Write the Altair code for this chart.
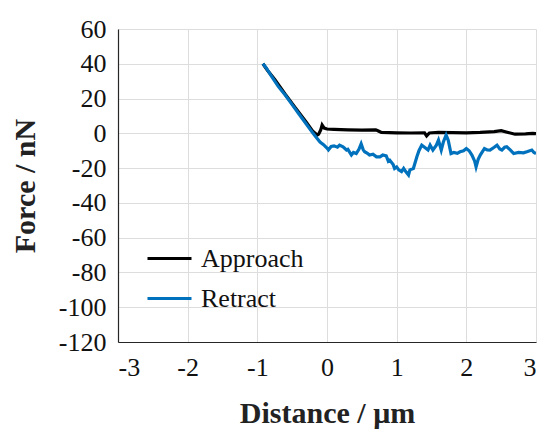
import altair as alt
import pandas as pd

series_names = ["Approach", "Retract"]
series_colors = ["#000000", "#0072BD"]

approach_x = [-0.92, -0.85, -0.75, -0.6, -0.45, -0.3, -0.2, -0.14, -0.12, -0.09, -0.07, -0.04, 0.0, 0.1,
              0.3, 0.5, 0.7, 0.73, 0.78, 1.0, 1.2, 1.4, 1.43, 1.47, 1.6, 1.8, 2.0, 2.2, 2.4, 2.5, 2.6,
              2.7, 2.85, 2.95, 3.0]
approach_y = [40, 36, 31, 22.5, 14.5, 6.5, 1, -1, -0.5, 2, 4.8, 3, 2.5, 2.3,
              2.0, 1.8, 2.0, 1.5, 0.5, 0.3, 0.2, 0.3, -1.5, 0.2, 0.5, 0.4, 0.3, 0.5, 1.0, 1.5, 0.5,
              -0.5, -0.3, 0, -0.2]

retract_x = [-0.92, -0.88, -0.8, -0.7, -0.6, -0.5, -0.4, -0.3, -0.2, -0.15, -0.1, -0.05, 0.0, 0.02,
             0.06, 0.1, 0.15, 0.18, 0.23, 0.28, 0.3, 0.35, 0.38, 0.42, 0.46, 0.49, 0.52, 0.54, 0.58,
             0.61, 0.66, 0.71, 0.76, 0.8, 0.85, 0.88, 0.9, 0.95, 0.97, 1.0, 1.03, 1.07, 1.1, 1.13,
             1.17, 1.19, 1.24, 1.29, 1.32, 1.36, 1.4, 1.45, 1.48, 1.52, 1.57, 1.6, 1.64, 1.67, 1.71,
             1.74, 1.78, 1.82, 1.87, 1.91, 1.96, 2.0, 2.04, 2.08, 2.12, 2.14, 2.17, 2.2, 2.26, 2.3,
             2.34, 2.4, 2.44, 2.48, 2.51, 2.55, 2.58, 2.63, 2.68, 2.75, 2.82, 2.88, 2.94, 2.97, 3.0]
retract_y = [40, 38, 33, 27, 22, 16.5, 11, 5.5, 0, -2.5, -5, -6.5, -8.5, -9.5,
             -7.5, -7.2, -8, -6.8, -7.8, -9.6, -9.2, -12.5, -11, -11.6, -9, -6, -9.5, -10.6, -11.5,
             -12.5, -12, -13.5, -13.5, -12.5, -13, -16, -15.4, -18, -20.2, -19.3, -21, -22, -20.2, -22,
             -24, -21, -20.2, -13.5, -10, -6.8, -8, -9.6, -6.8, -9.6, -6.8, -3.9, -9.6, -5, -1.0,
             -3.9, -11.6, -11, -11.5, -10.6, -10, -8.7, -10, -12.5, -16, -19.3, -15, -12.5, -8.7, -9.5,
             -9.6, -8, -6.8, -9, -9.6, -8, -7.7, -9.5, -11.6, -11, -11.2, -10.5, -9.6, -11, -11.6]

x_ticks = [-3, -2, -1, 0, 1, 2, 3]
y_ticks = [60, 40, 20, 0, -20, -40, -60, -80, -100, -120]

df = pd.concat([
    pd.DataFrame({"x": approach_x, "y": approach_y, "series": series_names[0]}),
    pd.DataFrame({"x": retract_x, "y": retract_y, "series": series_names[1]}),
], ignore_index=True)

FONT = "Liberation Serif"

chart = alt.Chart(df).mark_line(strokeWidth=3.2, clip=True).encode(
    x=alt.X("x:Q", scale=alt.Scale(domain=[-3, 3], nice=False, zero=False),
            axis=alt.Axis(values=x_ticks, title="Distance / μm", labelExpr="'' + datum.value",
                          grid=True, ticks=False, tickSize=0, labelPadding=12, titleY=80,
                          titleBaseline="alphabetic")),
    y=alt.Y("y:Q", scale=alt.Scale(domain=[-120, 60], nice=False, zero=False),
            axis=alt.Axis(values=y_ticks, title="Force / nN", labelExpr="'' + datum.value",
                          grid=True, ticks=False, tickSize=0, labelPadding=12, titleX=-84,
                          titleBaseline="alphabetic")),
    color=alt.Color("series:N",
                    scale=alt.Scale(domain=series_names, range=series_colors),
                    legend=alt.Legend(title=None, orient="none", legendX=28, legendY=206,
                                      symbolType="stroke", symbolSize=1936, symbolStrokeWidth=3,
                                      labelFontSize=26, labelFont=FONT, labelColor="#111111",
                                      labelOffset=8, rowPadding=3, padding=0)),
).properties(
    width=418, height=313,
    autosize=alt.AutoSizeParams(type="none"),
    padding={"left": 110, "top": 21, "right": 6, "bottom": 90},
).configure_view(stroke=None).configure_axis(
    labelFont=FONT, labelFontSize=26, labelColor="#111111",
    titleFont=FONT, titleFontSize=30, titleFontWeight="bold", titleColor="#222222",
    domainColor="#262626", domainWidth=1.2,
    gridColor="#dddddd", gridWidth=1,
)

chart.save("out.html", embed_options={"renderer": "svg", "actions": False})
